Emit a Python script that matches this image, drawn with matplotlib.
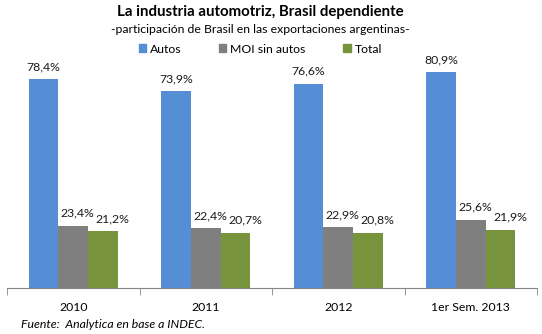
import numpy as np
import matplotlib
matplotlib.use("Agg")
import matplotlib.pyplot as plt
from matplotlib.patches import Patch

plt.rcParams['font.family'] = ['Lato', 'DejaVu Sans']

# Datos
categorias = ["2010", "2011", "2012", "1er Sem. 2013"]
series = ["Autos", "MOI sin autos", "Total"]
autos = [78.4, 73.9, 76.6, 80.9]
moi = [23.4, 22.4, 22.9, 25.6]
total = [21.2, 20.7, 20.8, 21.9]
colores = ["#558ED5", "#7F7F7F", "#77933C"]
desplaz = [0, 3, 7]  # corrimiento horizontal de etiquetas (pt)

fig = plt.figure(figsize=(5.42, 3.34), dpi=100)
ax = fig.add_axes([0.0129, 0.1377, 0.978, 0.7186])

x = np.arange(len(categorias))
w = 0.224
for i, (vals, c) in enumerate(zip([autos, moi, total], colores)):
    pos = x + (i - 1) * w
    ax.bar(pos, vals, width=w, color=c, label=series[i])
    for px, v in zip(pos, vals):
        ax.annotate(f"{v:.1f}%".replace(".", ","), (px, v), xytext=(desplaz[i], 5),
                    textcoords="offset points", ha="center", va="bottom",
                    fontsize=8.8, color="#1a1a1a")

ax.set_xlim(-0.5, len(categorias) - 0.5)
ax.set_ylim(0, 90)
ax.set_yticks([])
for s in ["top", "right", "left"]:
    ax.spines[s].set_visible(False)
ax.spines["bottom"].set_color("#868686")
ax.set_xticks(x)
ax.set_xticklabels(categorias, fontsize=8.8)
ax.tick_params(axis="x", length=0, pad=10)
ax.set_xticks(np.arange(-0.5, len(categorias)), minor=True)
ax.tick_params(axis="x", which="minor", length=5, color="#868686", direction="out")

fig.text(0.48, 0.965, "La industria automotriz, Brasil dependiente",
         ha="center", va="center", fontsize=10.8, fontweight="bold")
fig.text(0.48, 0.912, "-participación de Brasil en las exportaciones argentinas-",
         ha="center", va="center", fontsize=8.8)

handles = [Patch(color=c) for c in colores]
fig.legend(handles, series, loc="center", bbox_to_anchor=(0.48, 0.853), ncol=3,
           frameon=False, fontsize=8.8, handlelength=0.6, handleheight=0.6,
           handletextpad=0.3, columnspacing=3.1)

fig.text(0.039, 0.027, "Fuente:  Analytica en base a INDEC.", ha="left", va="center",
         fontsize=8.8, style="italic")

fig.savefig("out.png", dpi=100)
